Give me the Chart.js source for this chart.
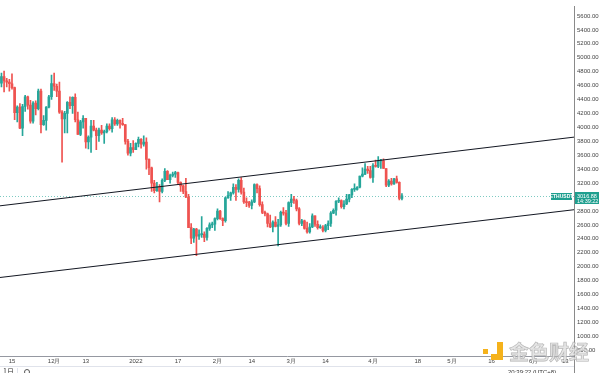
<!DOCTYPE html>
<html>
<head>
<meta charset="utf-8">
<script src="https://cdn.jsdelivr.net/npm/chart.js@4.4.1/dist/chart.umd.min.js"></script>
<style>
  body { margin: 0; background: #fff; }
  canvas { display: block; }
</style>
</head>
<body>
<canvas id="myChart" width="600" height="373"></canvas>
<script>
// ETHUSDT 1D, 2021-11-11 .. 2022-04-12  (x = days since 2021-11-15)
var firstDay = -4;

var open = [
  4636,4730,4668,4650,4626,4570,4210,4290,3990,4300,4440,4320,4090,4350,4270,4520,4040,4100,4290,4440,
  4630,4590,4520,4220,4120,4200,4360,4310,4430,4110,3900,4080,4130,3790,3860,4020,3960,3880,3960,3920,3940,4020,3980,4110,4050,4100,4060,4040,3800,3630,3710,
  3680,3770,3830,3760,3790,3540,3420,3200,3090,3150,3080,3240,3370,3250,3310,3330,3350,3210,3160,3080,3000,2560,2410,2540,2440,2460,2470,2420,2550,2600,2610,
  2690,2800,2690,2660,2990,3020,3060,3140,3110,3240,3070,2930,2920,2880,2930,3180,3120,2890,2780,2760,2620,2570,2640,2580,2600,2780,2770,2620,
  2920,2970,2950,2830,2620,2660,2550,2500,2570,2730,2610,2560,2560,2520,2590,2620,2770,2810,2940,2950,2860,2900,2970,3030,3110,3110,3140,3300,3330,3400,3380,
  3280,3450,3440,3520,3520,3410,3170,3230,3190,3260,3210,2980
];
var high = [
  4780,4810,4705,4690,4770,4580,4310,4340,4330,4460,4450,4390,4370,4380,4550,4550,4170,4300,4460,4750,
  4780,4620,4650,4240,4230,4370,4440,4440,4480,4220,4100,4170,4130,3880,4100,4100,3990,3990,4030,3960,4050,4050,4140,4140,4120,4110,4130,4040,3830,3770,3810,
  3780,3860,3840,3880,3850,3550,3430,3240,3210,3180,3260,3410,3380,3330,3360,3370,3360,3220,3170,3270,3040,2620,2550,2550,2530,2720,2500,2560,2630,2640,2700,
  2830,2810,2700,3000,3080,3070,3190,3180,3260,3280,3130,2990,2940,2960,3190,3190,3160,2930,2800,2770,2740,2660,2720,2680,2800,2850,2810,2930,
  3040,3010,2970,2850,2680,2670,2640,2620,2760,2730,2660,2600,2590,2610,2660,2790,2830,2950,2990,2960,2950,3040,3040,3120,3190,3150,3300,3420,3480,3440,3440,
  3480,3530,3580,3540,3550,3410,3250,3270,3270,3300,3220,3050
];
var low = [
  4580,4510,4580,4520,4550,4110,4080,3980,3880,4230,4260,4060,4060,4180,4250,3920,4030,3960,4280,4400,
  4530,4440,4200,3500,3920,3920,4270,4200,4080,3900,3880,3990,3700,3690,3640,3950,3680,3800,3900,3770,3920,3960,3930,4030,4030,3990,4030,3760,3600,3590,3640,
  3680,3720,3700,3730,3400,3320,3080,3060,3080,2930,3060,3220,3250,3200,3290,3280,3180,3080,3050,2990,2560,2330,2350,2160,2390,2420,2360,2380,2520,2560,2520,
  2670,2680,2590,2640,2980,2950,3040,2950,3070,3040,2910,2860,2850,2830,2920,3060,2870,2760,2730,2570,2560,2500,2570,2300,2580,2740,2600,2580,
  2860,2910,2800,2600,2590,2540,2480,2480,2560,2580,2540,2550,2500,2500,2530,2580,2760,2740,2920,2840,2830,2890,2930,2990,3080,3100,3130,3290,3320,3340,3270,
  3210,3430,3420,3410,3410,3150,3150,3170,3180,3200,2960,2960
];
var close = [
  4730,4668,4650,4626,4570,4210,4290,3990,4300,4440,4320,4090,4350,4270,4520,4040,4100,4290,4440,4630,
  4590,4520,4220,4120,4200,4360,4310,4430,4110,3900,4080,4130,3790,3860,4020,3960,3880,3960,3920,3940,4020,3980,4110,4050,4100,4060,4040,3800,3630,3710,3680,
  3770,3830,3760,3790,3540,3420,3200,3090,3150,3080,3240,3370,3250,3310,3330,3350,3210,3160,3080,3000,2560,2410,2540,2440,2460,2470,2420,2550,2600,2610,2690,
  2800,2690,2660,2990,3020,3060,3140,3110,3240,3070,2930,2920,2880,2930,3180,3120,2890,2780,2760,2620,2570,2640,2580,2600,2780,2770,2620,2920,
  2970,2950,2830,2620,2660,2550,2500,2570,2730,2610,2560,2560,2520,2590,2620,2770,2810,2940,2950,2860,2900,2970,3030,3110,3110,3140,3300,3330,3400,3380,3280,
  3450,3440,3520,3520,3410,3170,3230,3190,3260,3210,2980,3016.88
];

var tickDays   = [0, 16, 28, 47, 63, 78, 91, 106, 119, 137, 154, 167, 182, 198, 210];
var tickLabels = ['15', '12月', '13', '2022', '17', '2月', '14', '3月', '14', '4月', '18', '5月', '16', '6月', '13'];
var priceTicks = [800, 1000, 1200, 1400, 1600, 1800, 2000, 2200, 2400, 2600, 2800, 3000, 3200, 3400,
                  3600, 3800, 4000, 4200, 4400, 4600, 4800, 5000, 5200, 5400, 5600];

// parallel channel drawn on the chart
var upperChannel = [{x: -4.55, y: 2874}, {x: 213.3, y: 3860}];
var lowerChannel = [{x: -4.55, y: 1845}, {x: 213.3, y: 2818}];

var symbol = 'ETHUSDT';
var lastPrice = 3016.88;
var lastTime = '14:39:22';

var up = '#26a69a';
var down = '#ef5350';

var wicks = [], bodies = [], colors = [];
for (var i = 0; i < close.length; i++) {
  wicks.push({x: firstDay + i, y: [low[i], high[i]]});
  bodies.push({x: firstDay + i, y: [open[i], close[i]]});
  colors.push(close[i] >= open[i] ? up : down);
}

var font = {family: 'Liberation Sans', size: 6};

var extras = {
  id: 'extras',
  beforeDatasetsDraw: function(chart) {
    var ctx = chart.ctx, a = chart.chartArea;
    var py = Math.round(chart.scales.y.getPixelForValue(lastPrice)) + 0.5;
    ctx.save();
    ctx.strokeStyle = 'rgba(38,166,154,0.6)';
    ctx.lineWidth = 1;
    ctx.setLineDash([1, 2]);
    ctx.beginPath();
    ctx.moveTo(a.left, py);
    ctx.lineTo(a.right, py);
    ctx.stroke();
    ctx.restore();
  },
  afterDraw: function(chart) {
    var ctx = chart.ctx, a = chart.chartArea;
    var py = Math.round(chart.scales.y.getPixelForValue(lastPrice));
    ctx.save();
    // y axis line runs to the bottom
    ctx.strokeStyle = '#8a8a8a';
    ctx.beginPath();
    ctx.moveTo(a.right + 0.5, a.bottom);
    ctx.lineTo(a.right + 0.5, 373);
    ctx.stroke();
    // bottom toolbar separator
    ctx.strokeStyle = '#e0e3eb';
    ctx.beginPath();
    ctx.moveTo(0, 366.5);
    ctx.lineTo(a.right, 366.5);
    ctx.stroke();
    ctx.beginPath();
    ctx.moveTo(17.5, 368);
    ctx.lineTo(17.5, 373);
    ctx.stroke();

    // symbol + last price labels
    ctx.fillStyle = '#1f9f8f';
    ctx.fillRect(551, py - 3, 21, 7);
    ctx.fillRect(a.right + 1, py - 4, 24, 12);
    ctx.fillStyle = '#fff';
    ctx.font = 'bold 5px "Liberation Sans"';
    ctx.textAlign = 'center';
    ctx.textBaseline = 'middle';
    ctx.fillText(symbol, 561.5, py + 0.5);
    ctx.font = '5.5px "Liberation Sans"';
    ctx.textAlign = 'left';
    ctx.fillText(lastPrice.toFixed(2), a.right + 3, py);
    ctx.fillText(lastTime, a.right + 3, py + 5);

    // toolbar bits
    ctx.fillStyle = '#333';
    ctx.font = '7px "Noto Sans CJK SC"';
    ctx.textBaseline = 'top';
    ctx.fillText('1日', 3, 368);
    ctx.strokeStyle = '#555';
    ctx.beginPath();
    ctx.arc(27, 372, 2.5, 0, Math.PI * 2);
    ctx.stroke();
    ctx.font = '6px "Liberation Sans"';
    ctx.fillText('20:39:22 (UTC+8)', 508, 369);

    // watermark
    ctx.fillStyle = '#f5b21b';
    ctx.fillRect(483, 349, 5, 5);
    ctx.fillRect(497, 342, 6, 18);
    ctx.fillRect(491, 354, 12, 6);
    ctx.font = 'bold 20px "Noto Sans CJK SC"';
    ctx.textBaseline = 'middle';
    ctx.fillStyle = 'rgba(225,225,225,0.85)';
    ctx.strokeStyle = 'rgba(170,170,170,0.8)';
    ctx.lineWidth = 0.7;
    ctx.fillText('金色财经', 509, 352);
    ctx.strokeText('金色财经', 509, 352);
    ctx.restore();
  }
};

const ctx = document.getElementById('myChart').getContext('2d');
const myChart = new Chart(ctx, {
  type: 'bar',
  data: {
    datasets: [
      {
        type: 'line',
        data: upperChannel,
        borderColor: '#131722',
        borderWidth: 1,
        pointRadius: 0,
        order: 0
      },
      {
        type: 'line',
        data: lowerChannel,
        borderColor: '#131722',
        borderWidth: 1,
        pointRadius: 0,
        order: 0
      },
      {
        data: bodies,
        backgroundColor: colors,
        barThickness: 2,
        minBarLength: 1,
        grouped: false,
        order: 1
      },
      {
        data: wicks,
        backgroundColor: colors,
        barThickness: 1,
        grouped: false,
        order: 2
      }
    ]
  },
  options: {
    responsive: false,
    animation: false,
    layout: {padding: 0},
    plugins: {
      legend: {display: false},
      tooltip: {enabled: false}
    },
    scales: {
      x: {
        type: 'linear',
        offset: false,
        min: -4.55,
        max: 213.3,
        grid: {display: false, drawTicks: false},
        border: {display: true, color: '#9598a1'},
        ticks: {
          font: font,
          color: '#444',
          padding: 2,
          maxRotation: 0,
          autoSkip: false,
          callback: function(v, i) { return tickLabels[i]; }
        },
        afterBuildTicks: function(s) {
          s.ticks = tickDays.map(function(d) { return {value: d}; });
        },
        afterFit: function(s) { s.height = 17; }
      },
      y: {
        position: 'right',
        min: 718,
        max: 5734,
        grid: {display: false, drawTicks: false},
        border: {display: true, color: '#8a8a8a'},
        ticks: {
          font: font,
          color: '#444',
          padding: 3,
          callback: function(v) { return v.toFixed(2); }
        },
        afterBuildTicks: function(s) {
          s.ticks = priceTicks.map(function(p) { return {value: p}; });
        },
        afterFit: function(s) { s.width = 26; }
      }
    }
  },
  plugins: [extras]
});
</script>
</body>
</html>
